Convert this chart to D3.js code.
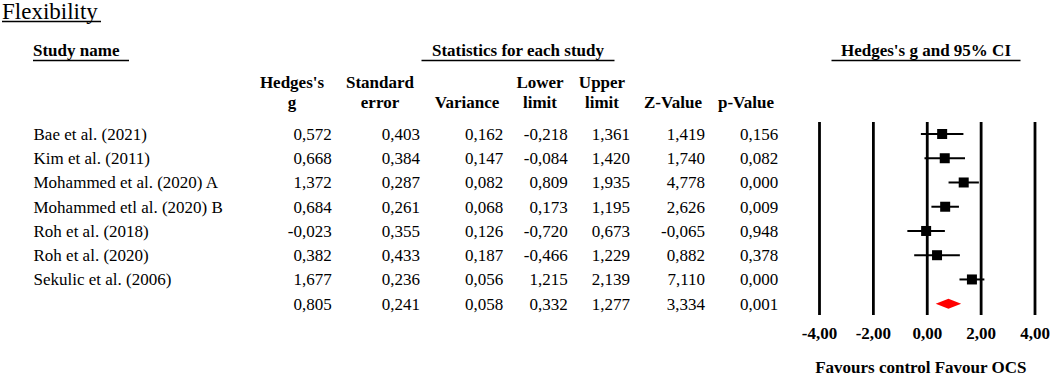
<!DOCTYPE html>
<html>
<head>
<meta charset="utf-8">
<script src="https://cdn.jsdelivr.net/npm/d3@7"></script>
<style>
  body { margin: 0; background: #fff; }
  svg { display: block; font-family: "Liberation Serif", "Times New Roman", serif; }
  .hdr { font-weight: bold; font-size: 17px; }
  .cell { font-size: 17px; }
</style>
</head>
<body>
<div id="forest"></div>
<script>
// Study rows (last row = overall / pooled estimate, no name)
const studyNames = [
  "Bae et al. (2021)",
  "Kim et al. (2011)",
  "Mohammed et al. (2020) A",
  "Mohammed etl al. (2020) B",
  "Roh et al. (2018)",
  "Roh et al. (2020)",
  "Sekulic et al. (2006)",
  ""
];
const hedgesG   = [0.572, 0.668, 1.372, 0.684, -0.023, 0.382, 1.677, 0.805];
const stdError  = [0.403, 0.384, 0.287, 0.261, 0.355, 0.433, 0.236, 0.241];
const variance  = [0.162, 0.147, 0.082, 0.068, 0.126, 0.187, 0.056, 0.058];
const lowerLim  = [-0.218, -0.084, 0.809, 0.173, -0.720, -0.466, 1.215, 0.332];
const upperLim  = [1.361, 1.420, 1.935, 1.195, 0.673, 1.229, 2.139, 1.277];
const zValue    = [1.419, 1.740, 4.778, 2.626, -0.065, 0.882, 7.110, 3.334];
const pValue    = [0.156, 0.082, 0.000, 0.009, 0.948, 0.378, 0.000, 0.001];
const summaryIndex = 7;

const axisTicks = [-4, -2, 0, 2, 4];
const axisDomain = [-4, 4];
const favourLabels = [{ at: -2, text: "Favours control" }, { at: 2, text: "Favour OCS" }];

const width = 1052, height = 376;
const svg = d3.select("#forest").append("svg")
  .attr("width", width)
  .attr("height", height);

const loc = d3.formatLocale({ decimal: ",", thousands: ".", grouping: [3], currency: ["", ""], minus: "-" });
const f3 = loc.format(".3f");
const f2 = loc.format(".2f");

// row positions
const rowIdx = d3.range(studyNames.length);
const y = d3.scalePoint().domain(rowIdx).range([134, 303.7]);

// forest plot scale
const x = d3.scaleLinear().domain(axisDomain).range([819, 1034.5]);

// Title
svg.append("text")
  .attr("x", 2).attr("y", 18.5)
  .style("font-size", "23px")
  .text("Flexibility");
svg.append("line")
  .attr("x1", 2).attr("x2", 101).attr("y1", 21.5).attr("y2", 21.5)
  .attr("stroke", "#000").attr("stroke-width", 1.3);

// group headers
const groups = [
  { text: "Study name", x: 33, anchor: "start", u: [33, 129] },
  { text: "Statistics for each study", x: 518, anchor: "middle", u: [421.5, 614.5] },
  { text: "Hedges's g and 95% CI", x: 926, anchor: "middle", u: [831.5, 1020.5] }
];
svg.selectAll(".grp").data(groups).join("text")
  .attr("class", "hdr")
  .attr("x", d => d.x).attr("y", 50).attr("dy", "0.35em")
  .attr("text-anchor", d => d.anchor)
  .text(d => d.text);
svg.selectAll(".grpline").data(groups).join("line")
  .attr("x1", d => d.u[0]).attr("x2", d => d.u[1])
  .attr("y1", 60.5).attr("y2", 60.5)
  .attr("stroke", "#000").attr("stroke-width", 1.3);

// columns
const columns = [
  { l1: "Hedges's", l2: "g", hx: 292, rx: 331.7, vals: hedgesG },
  { l1: "Standard", l2: "error", hx: 380, rx: 420, vals: stdError },
  { l1: "", l2: "Variance", hx: 467, rx: 503.3, vals: variance },
  { l1: "Lower", l2: "limit", hx: 540, rx: 567.7, vals: lowerLim },
  { l1: "Upper", l2: "limit", hx: 602, rx: 630, vals: upperLim },
  { l1: "", l2: "Z-Value", hx: 673, rx: 705, vals: zValue },
  { l1: "", l2: "p-Value", hx: 746, rx: 778.3, vals: pValue }
];

const colG = svg.selectAll(".col").data(columns).join("g");
colG.append("text").attr("class", "hdr")
  .attr("x", d => d.hx).attr("y", 81.7).attr("dy", "0.35em")
  .attr("text-anchor", "middle").text(d => d.l1);
colG.append("text").attr("class", "hdr")
  .attr("x", d => d.hx).attr("y", 101.7).attr("dy", "0.35em")
  .attr("text-anchor", "middle").text(d => d.l2);
colG.selectAll(".cell").data(d => d.vals.map(v => ({ v, rx: d.rx }))).join("text")
  .attr("class", "cell")
  .attr("x", d => d.rx)
  .attr("y", (d, i) => y(i)).attr("dy", "0.35em")
  .attr("text-anchor", "end")
  .text(d => f3(d.v));

// study names
svg.selectAll(".name").data(studyNames).join("text")
  .attr("class", "cell")
  .attr("x", 33.5)
  .attr("y", (d, i) => y(i)).attr("dy", "0.35em")
  .text(d => d);

// vertical reference lines + tick labels via axis
const lineTop = 122, lineBottom = 315;
const axis = svg.append("g")
  .attr("transform", `translate(0,${lineTop})`)
  .call(d3.axisBottom(x).tickValues(axisTicks).tickSize(lineBottom - lineTop).tickFormat(f2));
axis.select(".domain").remove();
axis.selectAll(".tick line").attr("stroke", "#000").attr("stroke-width", 2.8);
axis.selectAll(".tick text")
  .attr("y", 333.3 - lineTop).attr("dy", "0.35em")
  .attr("fill", "#000")
  .style("font-family", "'Liberation Serif', 'Times New Roman', serif")
  .style("font-size", "17px").style("font-weight", "bold");

// CI lines and squares
const studyRows = rowIdx.filter(i => i !== summaryIndex);
svg.selectAll(".ci").data(studyRows).join("line")
  .attr("x1", i => x(lowerLim[i])).attr("x2", i => x(upperLim[i]))
  .attr("y1", i => y(i)).attr("y2", i => y(i))
  .attr("stroke", "#000").attr("stroke-width", 2);
const sq = 10;
svg.selectAll(".pt").data(studyRows).join("rect")
  .attr("x", i => x(hedgesG[i]) - sq / 2)
  .attr("y", i => y(i) - sq / 2)
  .attr("width", sq).attr("height", sq)
  .attr("fill", "#000");

// summary diamond
const s = summaryIndex;
const dh = 5;
svg.append("polygon")
  .attr("points", [
    [x(lowerLim[s]), y(s)],
    [x(hedgesG[s]), y(s) - dh],
    [x(upperLim[s]), y(s)],
    [x(hedgesG[s]), y(s) + dh]
  ].map(p => p.join(",")).join(" "))
  .attr("fill", "#ff0000");

// favours labels
svg.selectAll(".fav").data(favourLabels).join("text")
  .attr("class", "hdr")
  .attr("x", d => x(d.at)).attr("y", 367).attr("dy", "0.35em")
  .attr("text-anchor", "middle")
  .text(d => d.text);
</script>
</body>
</html>
